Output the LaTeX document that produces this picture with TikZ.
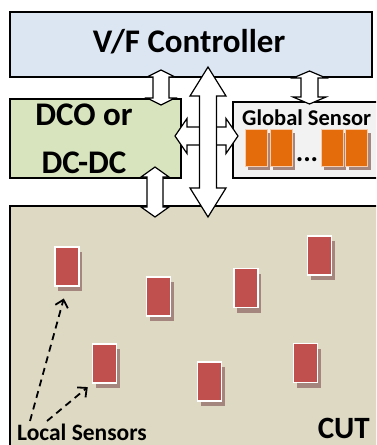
\documentclass[tikz,border=0pt]{standalone}
\usepackage{fontspec}
\setmainfont{Carlito}
\usetikzlibrary{arrows.meta, shadows}
\definecolor{VFBlue}{HTML}{DCE6F2}
\definecolor{DCOGreen}{HTML}{D7E4BD}
\definecolor{GlobalGray}{HTML}{F2F2F2}
\definecolor{CUTBeige}{HTML}{DDD9C3}
\definecolor{SensorRed}{HTML}{C0504D}
\definecolor{CellOrange}{HTML}{E46C0A}
\definecolor{CellEdge}{HTML}{F8CBAD}
\definecolor{ShadowMauve}{HTML}{A5867F}

% vertical / horizontal white block arrows with two heads
% #1 centre, #2 first tip, #3 second tip, #4 half shaft, #5 half head, #6 head length
\newcommand{\vblockarrow}[6]{%
    \draw[blockarrow] (#1,#2) -- (#1+#5,#2+#6) -- (#1+#4,#2+#6) -- (#1+#4,#3-#6)
        -- (#1+#5,#3-#6) -- (#1,#3) -- (#1-#5,#3-#6) -- (#1-#4,#3-#6)
        -- (#1-#4,#2+#6) -- (#1-#5,#2+#6) -- cycle;}
\newcommand{\hblockarrow}[6]{%
    \draw[blockarrow] (#2,#1) -- (#2+#6,#1-#5) -- (#2+#6,#1-#4) -- (#3-#6,#1-#4)
        -- (#3-#6,#1-#5) -- (#3,#1) -- (#3-#6,#1+#5) -- (#3-#6,#1+#4)
        -- (#2+#6,#1+#4) -- (#2+#6,#1+#5) -- cycle;}

\tikzset{
    box/.style={
        draw=black,
        fill=#1,
        line width=1.2pt,
        inner sep=0pt
    },
    box/.default=white,
    bigtext/.style={
        font=\fontsize{33}{48}\selectfont\bfseries,
        inner sep=0pt,
        align=center
    },
    smalltext/.style={
        font=\fontsize{23.5}{26}\selectfont\bfseries,
        inner sep=0pt
    },
    blockarrow/.style={
        draw=black,
        fill=white,
        line width=1.2pt,
        line join=miter
    },
    localsensor/.style={
        draw=white,
        line width=1.8pt,
        fill=SensorRed,
        minimum width=24pt,
        minimum height=39pt,
        inner sep=0pt,
        drop shadow={shadow xshift=3pt, shadow yshift=-5pt, fill=ShadowMauve, opacity=1}
    },
    globalcell/.style={
        draw=CellEdge,
        line width=0.6pt,
        fill=CellOrange,
        minimum width=22pt,
        minimum height=37pt,
        inner sep=0pt,
        drop shadow={shadow xshift=3pt, shadow yshift=-4pt, fill=ShadowMauve, opacity=1}
    },
    dasharrow/.style={
        dash pattern=on 7pt off 5pt,
        line width=1.8pt,
        -{Straight Barb[length=7pt, width=13pt]}
    }
}

\begin{document}
\begin{tikzpicture}[x=1pt, y=-1pt]
    \useasboundingbox (0,0) rectangle (376,445);
    \clip (0,0) rectangle (376,445);

    % Blocks
    \node[box=VFBlue, minimum width=362pt, minimum height=65pt] (vf) at (191,44.5) {};
    \node[box=DCOGreen, minimum width=171pt, minimum height=79pt] (dco) at (95.5,138.5) {};
    \node[box=GlobalGray, minimum width=152pt, minimum height=76pt] (global) at (309,140) {};
    \node[box=CUTBeige, minimum width=375pt, minimum height=244pt] (cut) at (197.5,328) {};

    % Labels
    \node[bigtext, anchor=base] (vftxt) at (189,52) {V/F Controller};
    \node[bigtext] (dcotxt) at (84,139) {DCO or\\DC-DC};
    \node[smalltext, font=\fontsize{22.5}{26}\selectfont\bfseries, anchor=base west] (globaltxt) at (242,125) {Global Sensor};
    \node[smalltext, anchor=base west] (localtxt) at (17,440) {Local Sensors};
    \node[font=\fontsize{31}{36}\selectfont\bfseries, inner sep=0pt, anchor=base east] (cuttxt) at (370,438) {CUT};

    % Global sensor cells
    \node[globalcell] (g1) at (256,147.5) {};
    \node[globalcell] (g2) at (281,147.5) {};
    \node[globalcell] (g3) at (332,147.5) {};
    \node[globalcell] (g4) at (356.5,147.5) {};
    \node[font=\fontsize{28}{30}\selectfont\bfseries, inner sep=0pt, anchor=base] (dots) at (307,161) {...};

    % Local sensors
    \node[localsensor] (s1) at (67,266.5) {};
    \node[localsensor] (s2) at (158.5,296.5) {};
    \node[localsensor] (s3) at (246,288) {};
    \node[localsensor] (s4) at (319.5,255.5) {};
    \node[localsensor] (s5) at (104.5,363.5) {};
    \node[localsensor] (s6) at (209.5,381.5) {};
    \node[localsensor] (s7) at (305.5,363) {};

    \coordinate (ls1) at (30,421);
    \coordinate (ls2) at (47,421);
    \draw[dasharrow, shorten >=12pt] (ls1) -- (s1.south);
    \draw[dasharrow, shorten >=5pt] (ls2) -- (s5.south west);

    % Data paths
    \vblockarrow{161}{70}{105}{8}{14}{7}
    \vblockarrow{309.5}{71}{104}{8.5}{16.5}{7}
    \vblockarrow{155}{167}{217}{8}{14}{10}
    \hblockarrow{136}{175}{238}{9}{17.5}{12}
    \vblockarrow{208}{67}{217}{8.5}{18}{29}
\end{tikzpicture}
\end{document}
